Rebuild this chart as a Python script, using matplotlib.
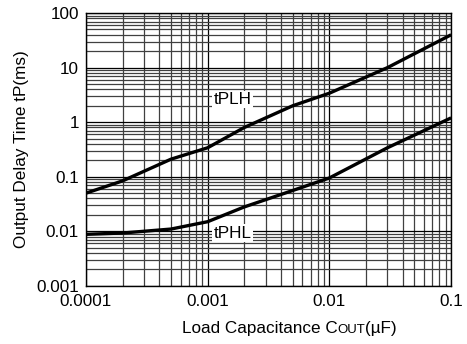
import matplotlib
matplotlib.use("Agg")
import matplotlib.pyplot as plt
from matplotlib.offsetbox import TextArea, HPacker, AnchoredOffsetbox

plt.rcParams['font.family'] = ['Liberation Sans', 'DejaVu Sans']

# load capacitance (uF) and delay times (ms)
cap = [0.0001, 0.0002, 0.0005, 0.001, 0.002, 0.005, 0.01, 0.03, 0.1]
t_plh = [0.05, 0.084, 0.21, 0.34, 0.8, 2.0, 3.4, 10.0, 40.0]
t_phl = [0.0088, 0.0093, 0.011, 0.015, 0.028, 0.056, 0.095, 0.34, 1.2]

x_ticks = [0.0001, 0.001, 0.01, 0.1]
x_tick_labels = ['0.0001', '0.001', '0.01', '0.1']
y_ticks = [0.001, 0.01, 0.1, 1, 10, 100]
y_tick_labels = ['0.001', '0.01', '0.1', '1', '10', '100']

FS = 12.3

fig = plt.figure(figsize=(4.67, 3.44), dpi=100)
ax = fig.add_axes([0.184, 0.169, 0.782, 0.793])

ax.plot(cap, t_plh, color='black', lw=2.4, solid_capstyle='butt', zorder=3)
ax.plot(cap, t_phl, color='black', lw=2.4, solid_capstyle='butt', zorder=3)

ax.set_xscale('log')
ax.set_yscale('log')
ax.set_xlim(0.0001, 0.1)
ax.set_ylim(0.001, 100)
ax.set_xticks(x_ticks)
ax.set_xticklabels(x_tick_labels)
ax.set_yticks(y_ticks)
ax.set_yticklabels(y_tick_labels)

ax.grid(True, which='major', color='black', lw=0.9)
ax.grid(True, which='minor', color='#404040', lw=0.9)
ax.tick_params(which='both', length=0, labelsize=FS)
ax.tick_params(axis='x', pad=6)
ax.tick_params(axis='y', pad=5)
for s in ax.spines.values():
    s.set_linewidth(1.0)

bb = dict(facecolor='white', edgecolor='none', pad=1.0)
ax.text(0.0016, 2.6, 'tPLH', ha='center', va='center', fontsize=FS, bbox=bb, zorder=4)
ax.text(0.0016, 0.0093, 'tPHL', ha='center', va='center', fontsize=FS, bbox=bb, zorder=4)

ax.set_ylabel('Output Delay Time tP(ms)', fontsize=FS, labelpad=5)

# x label with small-caps "OUT"
parts = [TextArea('Load Capacitance C', textprops=dict(fontsize=FS)),
         TextArea('OUT', textprops=dict(fontsize=9.5)),
         TextArea('(\u00b5F)', textprops=dict(fontsize=FS))]
box = HPacker(children=parts, align='baseline', pad=0, sep=0)
anc = AnchoredOffsetbox(loc='center', child=box, frameon=False,
                        bbox_to_anchor=(0.62, 0.045), bbox_transform=fig.transFigure,
                        borderpad=0)
fig.add_artist(anc)

fig.savefig('out.png', dpi=100)
